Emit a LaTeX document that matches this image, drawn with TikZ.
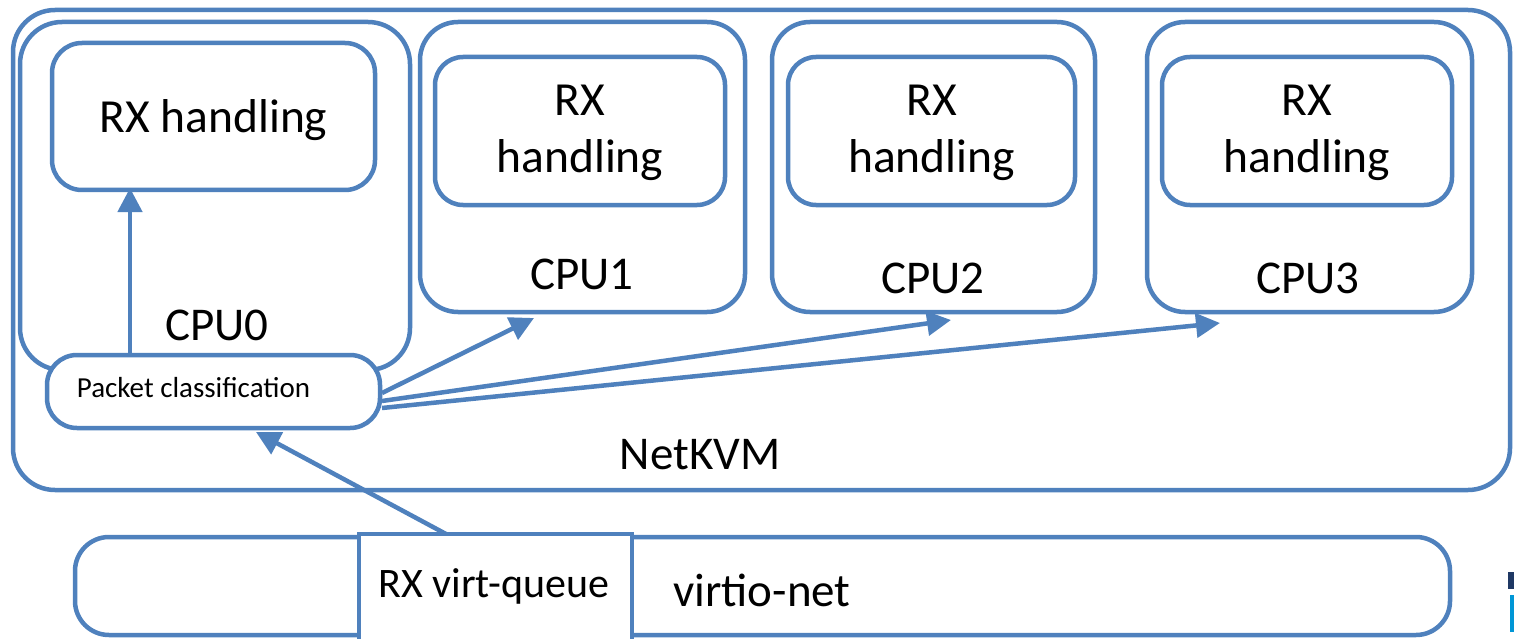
\documentclass[tikz,border=0pt]{standalone}
\usepackage{fontspec}
\setmainfont{Carlito}
\usetikzlibrary{arrows.meta,calc}
\definecolor{bl}{RGB}{79,129,189}
\definecolor{navy}{RGB}{31,56,100}
\definecolor{cyanlogo}{RGB}{0,150,214}
\tikzset{
  rbox/.style={draw=bl, line width=4.5pt, rounded corners=#1, fill=white, inner sep=0pt, align=center},
  rbox/.default=35pt,
  big/.style={font=\fontsize{47.5}{57}\selectfont},
  arr/.style={draw=bl, line width=4.5pt, -{Triangle[length=24pt,width=24pt]}},
  lbl/.style={inner sep=0pt, font=\fontsize{47}{56}\selectfont},
}
\begin{document}
\begin{tikzpicture}[x=1pt,y=-1pt]
\useasboundingbox (0,0) rectangle (1514,639);
\clip (0,0) rectangle (1514,639);
% NetKVM outer
\node[rbox=42pt, minimum width=1497, minimum height=480] (netkvm) at (761.5,250) {};
\node[lbl] (netlbl) at (700,455) {NetKVM};
% CPU boxes
\node[rbox=42pt, minimum width=390, minimum height=348] (cpu0) at (215,196) {};
\node[rbox=38pt, minimum width=325, minimum height=290] (cpu1) at (582.5,167) {};
\node[rbox=38pt, minimum width=323, minimum height=290] (cpu2) at (933.5,167) {};
\node[rbox=38pt, minimum width=325, minimum height=290] (cpu3) at (1309.5,167) {};
% inner RX handling
\node[rbox=30pt, minimum width=323, minimum height=147] (rx0) at (213.5,116.5) {};
\node[big, inner sep=0pt] (rx0t) at (213.5,120) {RX handling};
\node[rbox=28pt, minimum width=290, minimum height=148] (rx1) at (580,131) {};
\node[rbox=28pt, minimum width=287, minimum height=148] (rx2) at (931.5,131) {};
\node[rbox=28pt, minimum width=290, minimum height=148] (rx3) at (1307,131) {};
\node[big, inner sep=0pt, align=center] (rx1t) at (580,133) {RX\\handling};
\node[big, inner sep=0pt, align=center] (rx2t) at (931.5,133) {RX\\handling};
\node[big, inner sep=0pt, align=center] (rx3t) at (1307,133) {RX\\handling};
% CPU labels
\node[lbl] (c0) at (217,325) {CPU0};
\node[lbl] (c1) at (582,274) {CPU1};
\node[lbl] (c2) at (933,278) {CPU2};
\node[lbl] (c3) at (1308,278) {CPU3};
% packet classification
\node[rbox=30pt, font=\fontsize{29}{34}\selectfont, minimum width=333, minimum height=73] (pc) at (213.5,391.5) {\raisebox{9pt}{Packet classification}\hspace{40pt}};
% virtio-net
\node[rbox=34pt, minimum width=1375, minimum height=98] (vnet) at (762.5,586) {};
\node[lbl] (vlbl) at (762,590) {virtio-net};
\node[draw=bl, line width=4.5pt, fill=white, inner sep=0pt, minimum width=273, minimum height=120] (vq) at (495.5,594) {};
\node[inner sep=0pt, font=\fontsize{42}{50}\selectfont] (vqlbl) at (494,586) {RX virt-queue};
% logo fragment
\fill[navy] (1508,572) rectangle (1514,589);
\fill[cyanlogo] (1510,595) rectangle (1514,632);
% arrows
\coordinate (t1) at (534,318);
\coordinate (t2) at (951,320);
\coordinate (t3) at (1220,323);
\coordinate (s1) at (382,393);
\coordinate (s2) at (382,401);
\coordinate (s3) at (382,408);
\coordinate (q0) at (446,534);
\coordinate (p0) at (130,353);
\draw[arr] (p0) -- (130,188);
\draw[arr] (s1) -- (t1);
\draw[arr] (s2) -- (t2);
\draw[arr] (s3) -- (t3);
\draw[arr] (q0) -- (256,432);
\end{tikzpicture}
\end{document}
